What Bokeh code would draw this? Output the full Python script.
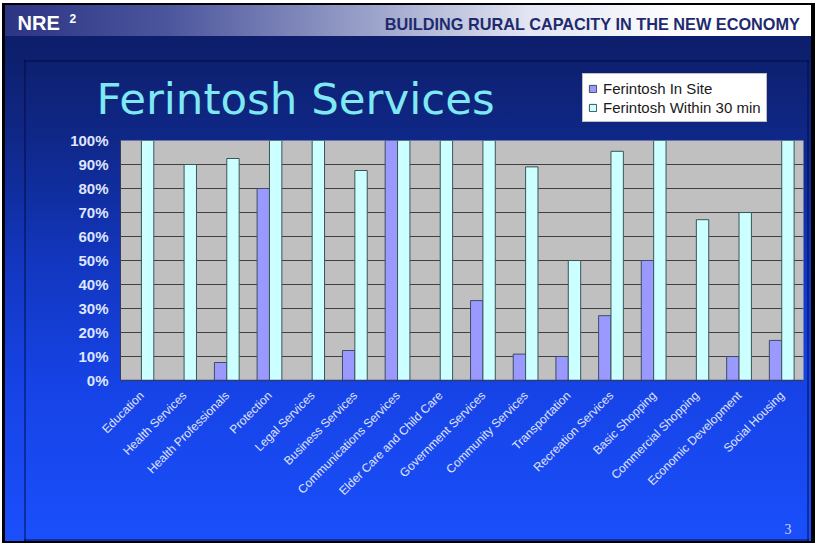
import numpy as np
from bokeh.plotting import figure
from bokeh.models import (ColumnDataSource, FactorRange, Range1d, Label, Legend, LegendItem,
                          NumeralTickFormatter, FixedTicker)
from bokeh.transform import dodge
from bokeh.embed import file_html
from bokeh.resources import INLINE

# ---------------- data ----------------
categories = ["Education", "Health Services", "Health Professionals", "Protection",
              "Legal Services", "Business Services", "Communications Services",
              "Elder Care and Child Care", "Government Services", "Community Services",
              "Transportation", "Recreation Services", "Basic Shopping",
              "Commercial Shopping", "Economic Development", "Social Housing"]
in_site = [0.0, 0.0, 0.075, 0.80, 0.0, 0.125, 1.00, 0.0, 0.333, 0.11, 0.10, 0.27,
           0.50, 0.0, 0.10, 0.167]
within_30 = [1.00, 0.90, 0.925, 1.00, 1.00, 0.875, 1.00, 1.00, 1.00, 0.89, 0.50, 0.955,
             1.00, 0.67, 0.70, 1.00]
series_names = ["Ferintosh In Site", "Ferintosh Within 30 min"]
series_colors = ["#9999ff", "#ccffff"]
y_ticks = [0.0, 0.1, 0.2, 0.3, 0.4, 0.5, 0.6, 0.7, 0.8, 0.9, 1.0]
title_text = "Ferintosh Services"
header_left = "NRE"
header_sup = "2"
header_right = "BUILDING RURAL CAPACITY IN THE NEW ECONOMY"
page_number = "3"

W, H = 817, 544

# ---------------- slide background figure (frame = whole canvas, pixel units) ----------------
frame_col = "rgba(0,8,60,0.45)"
def solid(c):
    return f"linear-gradient({c},{c})"
bg_layers = [
    f"{solid(frame_col)} 24px 60px / 2px 481px no-repeat",
    f"{solid(frame_col)} 24px 60px / 785px 2px no-repeat",
    f"{solid(frame_col)} 807px 60px / 2px 481px no-repeat",
    f"{solid(frame_col)} 24px 539px / 785px 2px no-repeat",
    "linear-gradient(to right, #2c3484 0%, #4b559c 20%, #9aa1c9 45%, #e2e5f2 65%, #ffffff 85%) 5px 5px / 806px 31px no-repeat",
    "linear-gradient(to bottom, #0d1f6c 0px, #0d1f6c 40px, #0f2786 130px, #1236be 255px, #1643e6 380px, #1a4ffb 536px) 5px 5px / 806px 536px no-repeat",
    f"{solid('#000')} 2px 3px / 813px 540px no-repeat",
    "#ffffff",
]

bg = figure(width=W, height=H, x_range=Range1d(0, W), y_range=Range1d(H, 0),
            output_backend="svg", toolbar_location=None, title=None,
            x_axis_type=None, y_axis_type=None, min_border=0)
bg.styles = {"background": ", ".join(bg_layers)}
bg.background_fill_color = None
bg.border_fill_color = None
bg.outline_line_color = None

def lab(fig, text, x, y, size, color, font="Liberation Sans", style="normal", align="left"):
    fig.add_layout(Label(x=x, y=y, text=text, text_font=font, text_font_size=size,
                         text_font_style=style, text_color=color, text_align=align,
                         text_baseline="alphabetic"))

lab(bg, header_left, 17, 22, "20px", "white", style="bold")
lab(bg, header_sup, 69, 18, "12px", "white", style="bold")
lab(bg, header_right, 800, 23, "16.3px", "#1f2a6e", style="bold", align="right")
lab(bg, title_text, 96, 98.5, "43.5px", "#7fe9f3", font="DejaVu Sans")
lab(bg, page_number, 784, 528, "14px", "#c9d3ff", font="Liberation Serif")

# legend proxies (no visible marks: NaN values)
proxy = ColumnDataSource(dict(x=[float("nan")], top=[float("nan")]))
d1 = bg.vbar(x="x", top="top", width=1, source=proxy, fill_color=series_colors[0],
             line_color="#3b4f5f")
d2 = bg.vbar(x="x", top="top", width=1, source=proxy, fill_color=series_colors[1],
             line_color="#3b5555")
legend = Legend(items=[LegendItem(label=series_names[0], renderers=[d1]),
                       LegendItem(label=series_names[1], renderers=[d2])],
                location=(582, 422), orientation="vertical",
                background_fill_color="white", background_fill_alpha=1,
                border_line_color="#808080", border_line_width=1,
                padding=5, spacing=1, glyph_width=9, glyph_height=9, label_height=18,
                label_standoff=6, label_text_font="Liberation Sans",
                label_text_font_size="15px", label_text_color="#1a1a1a")
bg.add_layout(legend, "center")

# ---------------- bar chart figure, laid over the slide ----------------
p = figure(x_range=FactorRange(*categories), y_range=Range1d(0, 1),
           width=W, height=H, output_backend="svg", toolbar_location=None, title=None,
           min_border_left=120, min_border_right=14, min_border_top=140, min_border_bottom=164)
p.styles = {"position": "absolute", "left": "0px", "top": "0px"}
p.border_fill_color = None
p.background_fill_color = "#c0c0c0"
p.outline_line_color = None

src = ColumnDataSource(dict(cat=categories, in_site=in_site, within_30=within_30))
r1 = p.vbar(x=dodge("cat", -0.155, range=p.x_range), top="in_site", width=0.29, source=src,
            fill_color=series_colors[0], line_color="#3b4f5f", line_width=1)
r2 = p.vbar(x=dodge("cat", 0.135, range=p.x_range), top="within_30", width=0.29, source=src,
            fill_color=series_colors[1], line_color="#3b5555", line_width=1)

p.xaxis.major_label_orientation = np.pi / 4
p.xaxis.axis_line_color = "#2c3a7a"
p.xaxis.axis_line_width = 1.5
p.xaxis.major_tick_line_color = None
p.xaxis.major_tick_out = 0
p.xaxis.major_tick_in = 0
p.xaxis.minor_tick_line_color = None
p.xaxis.major_label_standoff = 13
p.xaxis.major_label_text_font = "Liberation Sans"
p.xaxis.major_label_text_font_size = "12px"
p.xaxis.major_label_text_color = "#e0e6ff"

p.yaxis.ticker = FixedTicker(ticks=y_ticks)
p.yaxis.formatter = NumeralTickFormatter(format="0%")
p.yaxis.axis_line_color = "#3a3a5a"
p.yaxis.major_tick_line_color = None
p.yaxis.major_tick_out = 0
p.yaxis.major_tick_in = 0
p.yaxis.minor_tick_line_color = None
p.yaxis.major_label_standoff = 12
p.yaxis.major_label_text_font = "Liberation Sans"
p.yaxis.major_label_text_font_style = "bold"
p.yaxis.major_label_text_font_size = "15px"
p.yaxis.major_label_text_color = "#dfe6ff"

p.xgrid.visible = False
p.ygrid.ticker = FixedTicker(ticks=y_ticks)
p.ygrid.grid_line_color = "#404040"
p.ygrid.grid_line_width = 1

open("out.html", "w").write(file_html([bg, p], INLINE))
